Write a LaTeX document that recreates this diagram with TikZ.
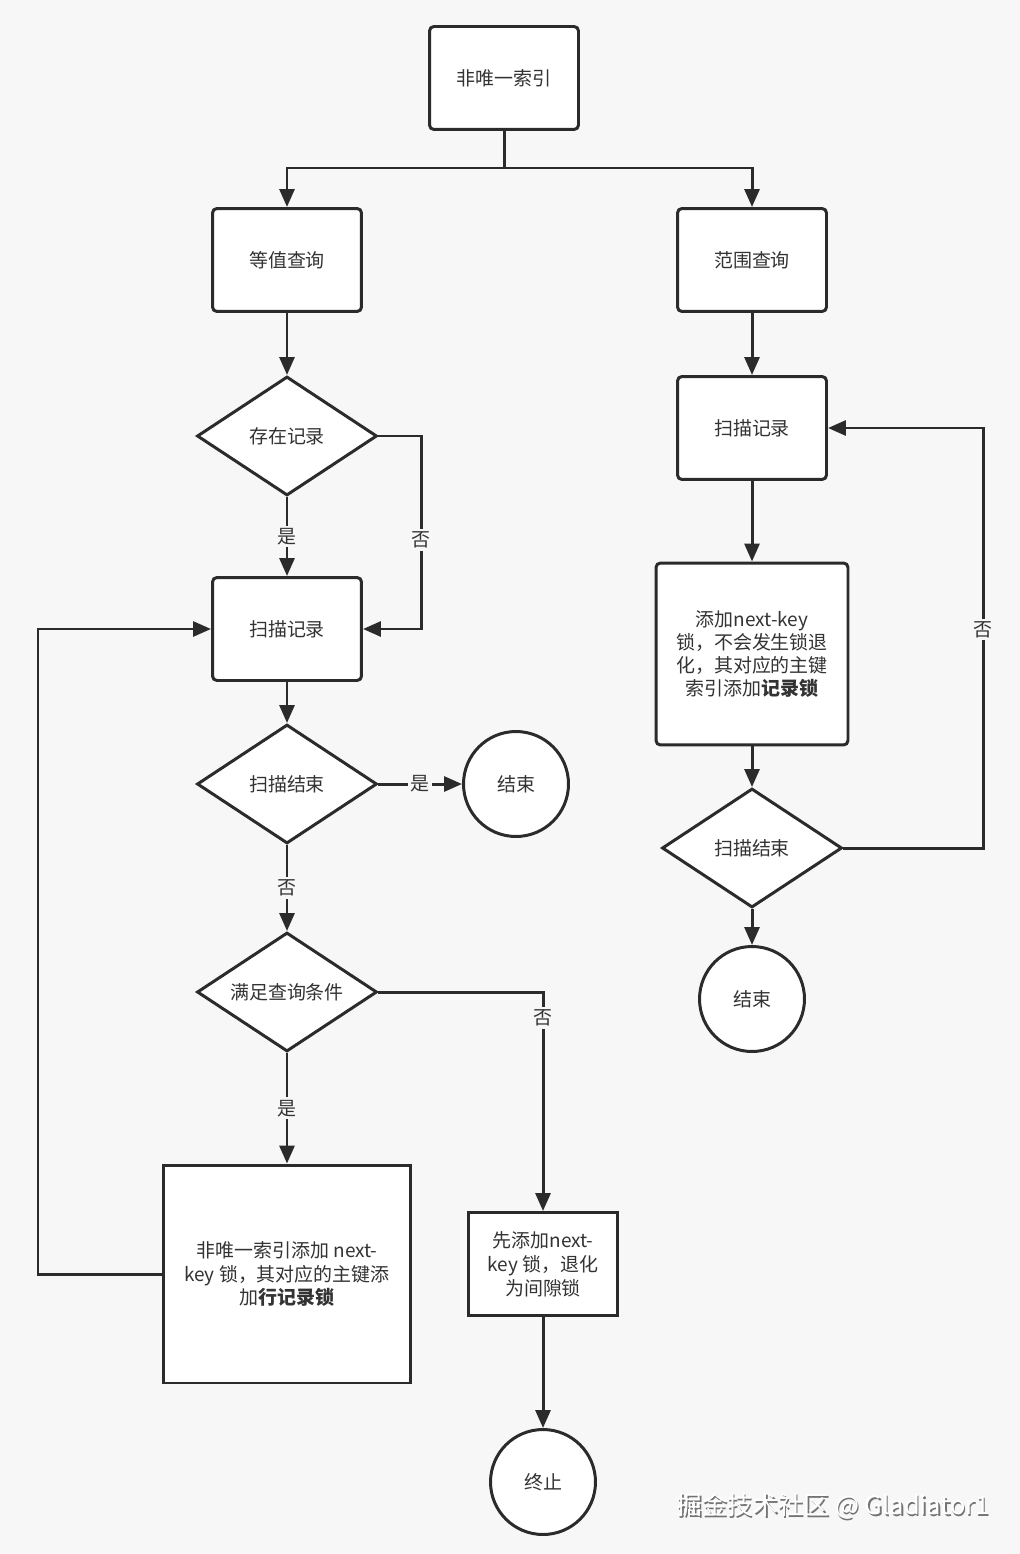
\documentclass[tikz,border=0pt]{standalone}
\usepackage{fontspec}
\setmainfont{Noto Sans CJK SC}
\usetikzlibrary{arrows.meta,shapes.geometric,backgrounds}

\definecolor{bgc}{HTML}{F7F7F7}
\definecolor{ink}{HTML}{2B2B2B}
\definecolor{txt}{HTML}{333333}
\newcommand{\flowfont}{\fontsize{10.8}{13.6}\selectfont}

\tikzset{
  box/.style={draw=ink, fill=white, line width=1.7pt, rounded corners=2.5pt,
    minimum width=2.98cm, minimum height=2.06cm, align=center, text=txt, font=\flowfont},
  sqbox/.style={box, sharp corners},
  cond/.style={diamond, draw=ink, fill=white, line width=1.7pt, aspect=1.5, inner sep=0pt,
    minimum width=3.6cm, minimum height=2.38cm, text=txt, font=\flowfont},
  term/.style={circle, draw=ink, fill=white, line width=1.7pt, minimum size=2.1cm,
    text=txt, font=\flowfont},
  line/.style={draw=ink, line width=1.7pt},
  arr/.style={line, -{Triangle[length=0.36cm,width=0.3cm]}},
  lbl/.style={fill=bgc, inner sep=1.5pt, text=txt, font=\flowfont}
}

\begin{document}
\begin{tikzpicture}[x=0.02cm, y=-0.02cm]
    \useasboundingbox (0,0) rectangle (1020,1554);
    % On main layer:
    \node[box] (idx) at (504,78) {非唯一索引};
    \node[box] (eq) at (287,260) {等值查询};
    \node[box] (rng) at (752,260) {范围查询};

    % equality branch
    \node[cond] (has) at (287,436) {存在记录};
    \node[box] (scanL) at (287,629) {扫描记录};
    \node[cond] (doneL) at (287,784) {扫描结束};
    \node[term] (endL) at (516,784) {结束};
    \node[cond] (match) at (287,992) {满足查询条件};
    \node[sqbox, minimum width=4.96cm, minimum height=4.36cm] (rowlock) at (287,1274)
      {非唯一索引添加 next-\\key 锁，其对应的主键添\\加\textbf{行记录锁}};
    \node[sqbox] (gaplock) at (543,1264) {先添加next-\\key 锁，退化\\为间隙锁};
    \node[term] (stop) at (543,1482) {终止};

    % range branch
    \node[box] (scanR) at (752,428) {扫描记录};
    \node[box, minimum width=3.84cm, minimum height=3.64cm, font=\fontsize{10.8}{13.2}\selectfont] (addR) at (752,654)
      {添加next-key\\锁，不会发生锁退\\化，其对应的主键\\索引添加\textbf{记录锁}};
    \node[cond] (doneR) at (752,848) {扫描结束};
    \node[term] (endR) at (752,999) {结束};

    \coordinate (split) at (504,168);
    \coordinate (noHas) at (421,436);
    \coordinate (back) at (38,1274);
    \coordinate (again) at (983,848);

    \draw[line] (idx.south) -- (split);
    \draw[arr] (split) -| (eq.north);
    \draw[arr] (split) -| (rng.north);

    \draw[arr] (eq) -- (has);
    \draw[arr] (has) -- node[lbl] {是} (scanL);
    \draw[arr] (has.east) -- (noHas) |- node[lbl, pos=0.27] {否} (scanL.east);
    \draw[arr] (scanL) -- (doneL);
    \draw[arr] (doneL) -- node[lbl] {是} (endL);
    \draw[arr] (doneL) -- node[lbl] {否} (match);
    \draw[arr] (match.east) -| node[lbl, pos=0.56] {否} (gaplock.north);
    \draw[arr] (match) -- node[lbl] {是} (rowlock);
    \draw[arr] (rowlock.west) -- (back) |- (scanL.west);
    \draw[arr] (gaplock) -- (stop);

    \draw[arr] (rng) -- (scanR);
    \draw[arr] (scanR) -- (addR);
    \draw[arr] (addR) -- (doneR);
    \draw[arr] (doneR) -- (endR);
    \draw[arr] (doneR.east) -- (again) |- node[lbl, pos=0.26] {否} (scanR.east);

    % watermark
    \node[text=black!55, font=\fontsize{14.5}{17}\selectfont] at (834.5,1507.5) {掘金技术社区 @ Gladiator1};
    \node[text=white, font=\fontsize{14.5}{17}\selectfont] (mark) at (833,1506) {掘金技术社区 @ Gladiator1};

    \begin{scope}[on background layer]
    \fill[bgc] (0,0) rectangle (1020,1554);
    \end{scope}
\end{tikzpicture}
\end{document}
